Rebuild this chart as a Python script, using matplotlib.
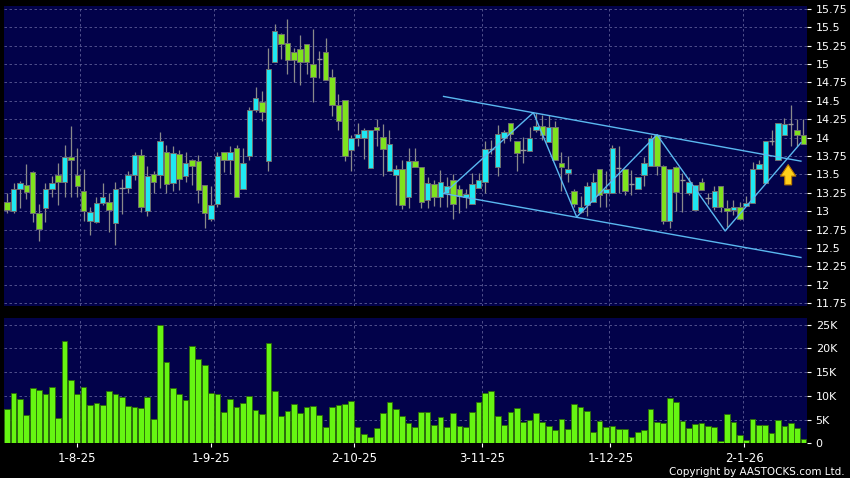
import numpy as np
import matplotlib
matplotlib.use("Agg")
import matplotlib.pyplot as plt

# daily candles, oldest first (Jul 2025 - Jan 2026)
opens = [13.12, 13.00, 13.30, 13.35, 13.53, 12.97, 13.04, 13.30, 13.49, 13.39,
         13.73, 13.49, 13.27, 12.87, 12.85, 13.11, 13.12, 12.84, 13.32, 13.32,
         13.49, 13.76, 13.00, 13.50, 13.49, 13.81, 13.38, 13.78, 13.48, 13.69,
         13.68, 13.35, 12.90, 13.10, 13.80, 13.70, 13.86, 13.30, 13.75, 14.38,
         14.48, 13.68, 15.03, 15.41, 15.28, 15.17, 15.20, 15.28, 15.00, 15.07,
         15.17, 14.82, 14.44, 14.51, 13.83, 13.99, 13.99, 13.59, 14.14, 14.01,
         13.55, 13.49, 13.57, 13.19, 13.68, 13.60, 13.15, 13.37, 13.19, 13.25,
         13.42, 13.30, 13.19, 13.10, 13.31, 13.40, 13.85, 13.60, 13.99, 14.20,
         13.95, 13.83, 13.82, 14.10, 14.16, 13.94, 14.14, 13.66, 13.52, 13.28,
         12.99, 13.09, 13.13, 13.57, 13.25, 13.25, 13.59, 13.57, 13.37, 13.30,
         13.49, 13.62, 14.04, 13.62, 12.86, 13.60, 13.42, 13.25, 13.02, 13.39,
         13.18, 13.05, 13.34, 13.04, 13.02, 13.05, 13.07, 13.11, 13.57, 13.38,
         13.96, 13.70, 14.04, 14.18, 14.11, 14.04]
highs = [13.25, 13.38, 13.41, 13.64, 13.55, 13.10, 13.38, 13.48, 13.65, 13.90,
         14.16, 13.86, 13.57, 13.06, 13.19, 13.38, 13.25, 13.40, 13.44, 13.55,
         13.81, 13.85, 13.61, 13.54, 14.08, 13.90, 13.88, 13.83, 13.81, 13.71,
         13.77, 13.36, 13.34, 13.81, 13.80, 13.89, 13.90, 13.86, 14.42, 14.69,
         14.64, 15.22, 15.54, 15.42, 15.62, 15.22, 15.40, 15.28, 15.48, 15.18,
         15.35, 14.94, 14.60, 14.51, 14.04, 14.20, 14.13, 14.10, 14.25, 14.18,
         14.10, 13.63, 13.70, 13.86, 13.86, 13.60, 13.47, 13.43, 13.56, 13.47,
         13.50, 13.35, 13.30, 13.52, 13.52, 13.96, 13.97, 14.17, 14.10, 14.20,
         13.96, 14.01, 14.15, 14.34, 14.31, 14.31, 14.22, 13.81, 13.75, 13.30,
         13.20, 13.40, 13.52, 13.58, 13.54, 13.90, 13.88, 13.58, 13.56, 13.47,
         13.74, 14.04, 14.05, 13.63, 13.58, 13.62, 13.52, 13.46, 13.36, 13.45,
         13.25, 13.34, 13.34, 13.15, 13.15, 13.12, 13.20, 13.67, 13.70, 13.96,
         14.11, 14.20, 14.27, 14.45, 14.25, 14.25]
lows = [12.97, 12.97, 13.04, 13.16, 12.85, 12.59, 12.85, 13.19, 13.08, 13.19,
        13.19, 13.19, 12.86, 12.67, 12.84, 13.09, 12.72, 12.54, 12.96, 13.25,
        13.43, 12.99, 12.93, 13.25, 13.32, 13.25, 13.28, 13.29, 13.40, 13.36,
        13.11, 12.77, 12.87, 13.06, 13.53, 13.50, 13.19, 13.30, 13.69, 14.35,
        14.23, 13.55, 15.03, 15.07, 14.86, 14.76, 14.71, 14.86, 14.48, 14.81,
        14.79, 14.29, 14.11, 13.68, 13.54, 13.88, 13.71, 13.59, 13.88, 13.48,
        13.55, 13.08, 13.03, 13.04, 13.60, 13.04, 13.04, 13.07, 13.06, 13.06,
        12.89, 12.97, 13.04, 13.10, 13.31, 13.25, 13.78, 13.48, 13.93, 13.95,
        13.55, 13.65, 13.82, 14.08, 13.97, 13.94, 13.70, 13.27, 13.40, 13.05,
        12.97, 12.93, 13.12, 13.06, 13.06, 13.25, 13.25, 13.22, 13.22, 13.30,
        13.34, 13.62, 13.49, 12.83, 12.77, 13.00, 12.99, 13.22, 13.02, 13.29,
        13.10, 13.02, 12.99, 12.79, 12.95, 12.88, 13.07, 13.11, 13.57, 13.38,
        13.90, 13.70, 14.04, 13.88, 13.88, 13.92]
closes = [13.02, 13.30, 13.38, 13.26, 12.97, 12.76, 13.30, 13.38, 13.39, 13.73,
          13.69, 13.34, 13.00, 12.99, 13.11, 13.19, 13.02, 13.30, 13.32, 13.49,
          13.76, 13.05, 13.48, 13.39, 13.96, 13.37, 13.79, 13.44, 13.65, 13.62,
          13.29, 12.97, 13.08, 13.75, 13.70, 13.80, 13.19, 13.65, 14.37, 14.54,
          14.35, 14.94, 15.45, 15.28, 15.06, 15.06, 15.03, 15.03, 14.82, 15.07,
          14.79, 14.45, 14.23, 13.75, 13.99, 14.05, 14.10, 14.10, 14.10, 13.84,
          13.91, 13.57, 13.08, 13.68, 13.60, 13.12, 13.38, 13.19, 13.39, 13.34,
          13.10, 13.20, 13.23, 13.37, 13.42, 13.85, 13.85, 14.05, 14.07, 14.05,
          13.79, 13.83, 13.99, 14.16, 14.04, 14.14, 13.70, 13.60, 13.57, 13.10,
          13.05, 13.34, 13.39, 13.22, 13.30, 13.86, 13.59, 13.27, 13.37, 13.46,
          13.65, 13.99, 13.62, 12.86, 13.57, 13.26, 13.42, 13.39, 13.36, 13.29,
          13.18, 13.27, 13.05, 13.00, 13.05, 12.89, 13.11, 13.57, 13.64, 13.96,
          13.96, 14.20, 14.18, 14.18, 14.04, 13.92]
# volume in thousands of shares
volume_k = [7.2, 10.7, 9.4, 5.9, 11.6, 11.2, 10.4, 11.9, 5.3, 21.5,
            13.3, 10.4, 11.9, 8.1, 8.5, 8.1, 11.0, 10.3, 9.7, 7.9,
            7.7, 7.4, 9.8, 5.2, 25.0, 17.1, 11.6, 10.3, 9.2, 20.6,
            17.7, 16.6, 10.6, 10.3, 6.5, 9.4, 7.6, 8.5, 10.0, 7.1,
            6.2, 21.2, 11.0, 5.8, 6.8, 8.3, 6.3, 7.6, 7.9, 6.0,
            3.4, 7.7, 8.1, 8.2, 8.9, 3.4, 2.0, 1.3, 3.2, 6.3,
            8.7, 7.3, 5.8, 4.3, 3.5, 6.5,
            6.5, 3.9, 5.6, 3.4, 6.3, 3.7, 3.4, 6.7, 8.7, 10.7,
            11.0, 5.8, 3.8, 6.7, 7.4, 4.4, 5.0, 6.3, 4.4, 3.7,
            2.8, 5.1, 3.0, 8.2, 7.7, 6.8, 2.4, 4.6, 3.4, 3.7,
            3.0, 3.0, 1.4, 2.3, 2.9, 7.2, 4.5, 4.2, 9.6, 8.7,
            4.7, 3.3, 4.0, 4.2, 3.6, 3.5, 0.5, 6.2, 4.5, 1.8,
            0.6, 5.1, 3.9, 3.9, 2.2, 4.9, 3.7, 4.2, 3.3, 0.9]

date_labels = ["1-8-25", "1-9-25", "2-10-25", "3-11-25", "1-12-25", "2-1-26"]
date_pos = [11.0, 32.0, 54.5, 74.6, 94.7, 115.7]
grid_pos = [11.5, 32.5, 54.5, 74.5, 94.5, 115.5]

# drawn trend lines (bar index, price)
channel_upper = [(68.5, 14.56), (124.6, 13.68)]
channel_lower = [(68.5, 13.24), (124.6, 12.37)]
zigzag = [(68.7, 13.25), (82.6, 14.34), (89.4, 12.92), (102.0, 14.04),
          (112.7, 12.73), (124.6, 13.93)]
arrow_x, arrow_lo, arrow_hi = 122.6, 13.32, 13.67

price_ticks = np.arange(11.75, 15.76, 0.25)
vol_ticks = [0, 5, 10, 15, 20, 25]

BG = '#02024a'
UP = '#1fe8f2'
DOWN = '#7fe21e'
GRID = '#5c5c96'
LINE = '#5ab8f0'

o = np.array(opens); h = np.array(highs); l = np.array(lows); c = np.array(closes)
x = np.arange(len(o))

fig = plt.figure(figsize=(8.5, 4.78), dpi=100, facecolor='black')
ax = fig.add_axes([4/850, 1-306/478, 803.3/850, 300/478], facecolor=BG)
axv = fig.add_axes([4/850, 1-443.3/478, 803.3/850, 125/478], facecolor=BG, sharex=ax)

for a in (ax, axv):
    for gx in grid_pos:
        a.axvline(gx, color=GRID, lw=0.6, ls=(0, (3, 3)), zorder=0)
    for s in a.spines.values():
        s.set_visible(False)

for p in price_ticks:
    ax.axhline(p, color=GRID, lw=0.6, ls=(0, (3, 3)), zorder=0)
for v in vol_ticks:
    axv.axhline(v, color=GRID, lw=0.6, ls=(0, (3, 3)), zorder=0)

# wicks
ax.vlines(x, l, h, color='#8a8a8a', lw=0.9, zorder=2)
doji = np.isclose(o, c)
up = (c > o) & ~doji
dn = (c < o) & ~doji
ax.bar(x[up], (c - o)[up], bottom=o[up], width=0.86, color=UP,
       edgecolor='#707070', lw=0.7, zorder=3)
ax.bar(x[dn], (o - c)[dn], bottom=c[dn], width=0.86, color=DOWN,
       edgecolor='#707070', lw=0.7, zorder=3)
ax.hlines(o[doji], x[doji] - 0.43, x[doji] + 0.43, color='#9a9a9a', lw=1.0, zorder=3)

# trend lines
for seg in (channel_upper, channel_lower, zigzag):
    xs, ys = zip(*seg)
    ax.plot(xs, ys, color=LINE, lw=1.0, zorder=4)

ax.annotate('', xy=(arrow_x, arrow_hi), xytext=(arrow_x, arrow_lo),
            arrowprops=dict(arrowstyle='simple,head_width=1.0,head_length=0.75,tail_width=0.45',
                            fc='#ffcf1a', ec='#b87800', lw=0.8, mutation_scale=11),
            zorder=5)

ax.set_xlim(-0.5, 125.6)
ax.set_ylim(11.71, 15.79)
ax.yaxis.tick_right()
ax.set_yticks(price_ticks)
ax.set_yticklabels(['%g' % p for p in price_ticks])
ax.tick_params(axis='y', colors='white', labelsize=8, length=3, pad=3, width=0.8)
ax.tick_params(axis='x', bottom=False, labelbottom=False)

axv.bar(x, volume_k, width=0.9, color='#66f512', edgecolor='#2c6a08', lw=0.6, zorder=2)
axv.set_ylim(0, 26.35)
axv.yaxis.tick_right()
axv.set_yticks(vol_ticks)
axv.set_yticklabels(['0' if v == 0 else '%dK' % v for v in vol_ticks])
axv.tick_params(axis='y', colors='white', labelsize=8, length=3, pad=3, width=0.8)
axv.set_xticks(date_pos)
axv.set_xticklabels(date_labels)
axv.tick_params(axis='x', colors='white', labelsize=8.5, length=3, pad=3, width=0.8)

fig.text(845/850, 1-472/478, 'Copyright by AASTOCKS.com Ltd.', color='white',
         fontsize=7.5, family=['DejaVu Sans Condensed', 'DejaVu Sans'],
         ha='right', va='center')

fig.savefig('out.png', dpi=100, facecolor='black')
